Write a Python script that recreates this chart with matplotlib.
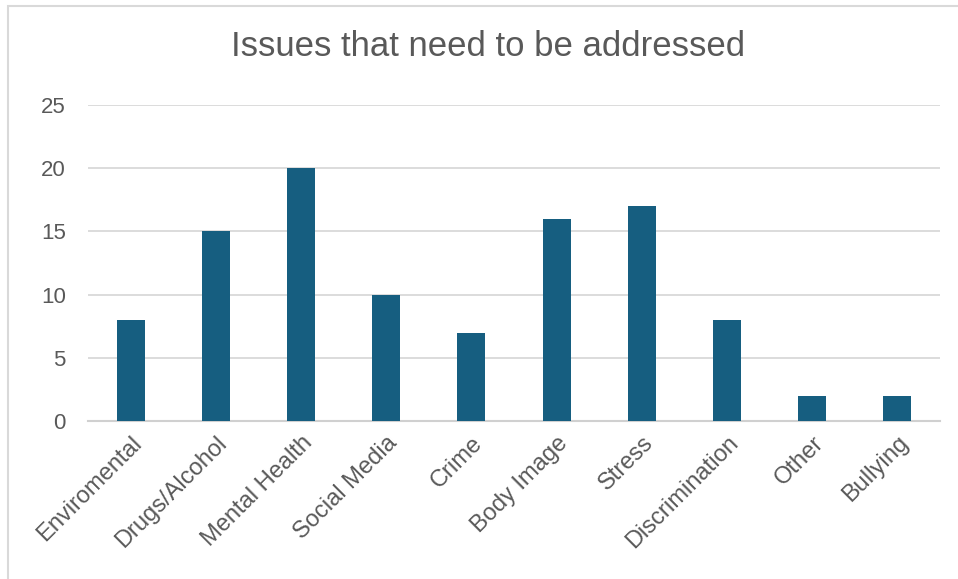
import matplotlib.pyplot as plt
from matplotlib.patches import Rectangle

# Veriler
categories = ["Enviromental", "Drugs/Alcohol", "Mental Health", "Social Media", "Crime",
              "Body Image", "Stress", "Discrimination", "Other", "Bullying"]
counts = [8, 15, 20, 10, 7, 16, 17, 8, 2, 2]
y_ticks = [0, 5, 10, 15, 20, 25]

plt.rcParams['font.family'] = ['Liberation Sans', 'DejaVu Sans']
text_color = '#595959'

fig = plt.figure(figsize=(9.58, 5.79), dpi=100)
ax = fig.add_axes([88 / 958, 1 - 421 / 579, 852 / 958, 316 / 579])

# Dış çerçeve
fig.patches.append(Rectangle((8 / 958, -0.05), 1.1, 1 - 6 / 579 + 0.05,
                             transform=fig.transFigure, fill=False,
                             edgecolor='#d9d9d9', linewidth=1.5))

x = range(len(categories))
ax.bar(x, counts, width=0.33, color='#165E80', zorder=3)

ax.set_xlim(-0.5, len(categories) - 0.5)
ax.set_ylim(0, 25)
ax.set_yticks(y_ticks)
ax.set_xticks(list(x))
ax.set_xticklabels(categories, rotation=45, ha='right', rotation_mode='anchor')
ax.tick_params(axis='both', length=0, labelcolor=text_color)
ax.tick_params(axis='y', pad=16, labelsize=16)
ax.tick_params(axis='x', pad=8, labelsize=17)

ax.grid(axis='y', color='#d9d9d9', linewidth=1.3, zorder=0)
for side in ['top', 'right', 'left']:
    ax.spines[side].set_visible(False)
ax.spines['bottom'].set_color('#d0d0d0')
ax.spines['bottom'].set_linewidth(1.5)

fig.text(488 / 958, 1 - 47 / 579, "Issues that need to be addressed", ha='center', va='center',
         fontsize=25, color=text_color)

fig.savefig('out.png', dpi=100)
